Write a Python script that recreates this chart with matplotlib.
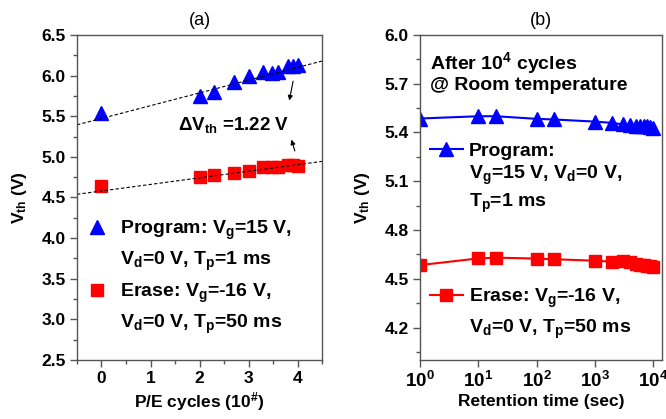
import numpy as np
import matplotlib
matplotlib.use("Agg")
import matplotlib.pyplot as plt
from matplotlib.lines import Line2D
from matplotlib.ticker import MultipleLocator, FixedLocator, FuncFormatter

plt.rcParams["font.family"] = ["Liberation Sans", "DejaVu Sans"]
plt.rcParams["font.weight"] = "bold"
plt.rcParams["axes.labelweight"] = "bold"
plt.rcParams["mathtext.fontset"] = "custom"
plt.rcParams["mathtext.rm"] = "Liberation Sans:bold"
plt.rcParams["mathtext.bf"] = "Liberation Sans:bold"
plt.rcParams["mathtext.it"] = "Liberation Sans:bold"
plt.rcParams["mathtext.default"] = "bf"

# (a) endurance, x = log10(P/E cycles)
pe_cycles = [0, 2, 2.3, 2.7, 3.0, 3.3, 3.48, 3.6, 3.8, 3.9, 4.0]
vth_prog_pe = [5.54, 5.75, 5.80, 5.92, 5.99, 6.04, 6.03, 6.04, 6.12, 6.12, 6.13]
vth_erase_pe = [4.64, 4.75, 4.78, 4.80, 4.83, 4.87, 4.87, 4.88, 4.90, 4.90, 4.89]
# linear fits (slope, intercept) drawn as dashed lines
fit_prog = (0.157, 5.473)
fit_erase = (0.081, 4.58)

# (b) retention after 1e4 cycles
ret_time = [1, 10, 20, 100, 200, 1000, 2000, 3000, 4000, 5000, 6000, 7000, 8000, 9000, 10000]
vth_prog_ret = [5.486, 5.50, 5.50, 5.484, 5.48, 5.467, 5.459, 5.45, 5.447, 5.44, 5.44,
                5.44, 5.437, 5.435, 5.43]
vth_erase_ret = [4.584, 4.625, 4.63, 4.624, 4.62, 4.611, 4.605, 4.61, 4.60, 4.592, 4.585,
                 4.582, 4.58, 4.578, 4.575]

blue = "#0000ff"
red = "#ff0000"
spine_col = "#555555"

fig = plt.figure(figsize=(6.66, 4.19), dpi=100)
ax1 = fig.add_axes([0.1156, 0.1408, 0.368, 0.7757])
ax2 = fig.add_axes([0.6306, 0.1408, 0.3634, 0.7757])

for ax in (ax1, ax2):
    for s in ax.spines.values():
        s.set_color(spine_col)
        s.set_linewidth(1.0)
    ax.tick_params(which="both", direction="out", color=spine_col, labelsize=12.5,
                   top=False, right=False)
    ax.tick_params(which="major", length=5, width=1, pad=3)
    ax.tick_params(which="minor", length=3, width=1)

# ---- panel (a) ----
ax1.plot(pe_cycles, vth_prog_pe, linestyle="none", marker="^", ms=10, color=blue, mec=blue)
ax1.plot(pe_cycles, vth_erase_pe, linestyle="none", marker="s", ms=8.5, color=red, mec=red)
xf = np.array([-0.5, 4.5])
ax1.plot(xf, fit_prog[0] * xf + fit_prog[1], "k--", lw=0.8, dashes=(3, 2))
ax1.plot(xf, fit_erase[0] * xf + fit_erase[1], "k--", lw=0.8, dashes=(3, 2))

ax1.set_xlim(-0.5, 4.5)
ax1.set_ylim(2.5, 6.5)
ax1.xaxis.set_major_locator(MultipleLocator(1))
ax1.xaxis.set_minor_locator(MultipleLocator(0.5))
ax1.yaxis.set_major_locator(MultipleLocator(0.5))
ax1.yaxis.set_minor_locator(MultipleLocator(0.25))
ax1.yaxis.set_major_formatter(FuncFormatter(lambda v, p: f"{v:.1f}"))

ax1.annotate("", xy=(3.82, 5.66), xytext=(3.92, 5.965),
             arrowprops=dict(arrowstyle="-|>", color="k", lw=0.8, mutation_scale=7))
ax1.annotate("", xy=(3.86, 5.245), xytext=(3.96, 5.04),
             arrowprops=dict(arrowstyle="-|>", color="k", lw=0.8, mutation_scale=7))
ax1.text(2.69, 5.39, "ΔV$_{th}$ =1.22 V", fontsize=13.5, ha="center", va="center")

h_tri = Line2D([], [], linestyle="none", marker="^", ms=10, color=blue)
h_sq = Line2D([], [], linestyle="none", marker="s", ms=8.5, color=red)
h_none = Line2D([], [], linestyle="none")
ax1.legend([h_tri, h_none, h_sq, h_none],
           ["Program: V$_g$=15 V,", "V$_d$=0 V, T$_p$=1 ms",
            "Erase: V$_g$=-16 V,", "V$_d$=0 V, T$_p$=50 ms"],
           loc="upper left", bbox_to_anchor=(0.0, 0.465), frameon=False,
           fontsize=14, handlelength=1.1, handletextpad=0.6, labelspacing=0.42,
           borderpad=0.2, borderaxespad=0.3)

ax1.set_xlabel("P/E cycles (10$^{\\#}$)", fontsize=12.5, labelpad=3)
ax1.set_ylabel("V$_{th}$ (V)", fontsize=12.5, labelpad=9)
ax1.set_title("(a)", fontsize=13, fontweight="normal", pad=7)

# ---- panel (b) ----
ax2.plot(ret_time, vth_prog_ret, "-", marker="^", ms=10, color=blue, lw=1.5)
ax2.plot(ret_time, vth_erase_ret, "-", marker="s", ms=8.5, color=red, lw=1.5)
ax2.set_xscale("log")
ax2.set_xlim(1, 14250)
ax2.set_ylim(4.0, 6.0)
ax2.xaxis.set_major_locator(FixedLocator([1, 10, 100, 1000, 10000]))
ax2.xaxis.set_minor_locator(FixedLocator([]))
ax2.xaxis.set_major_formatter(FuncFormatter(lambda v, p: f"$10^{{{int(round(np.log10(v)))}}}$"))
ax2.yaxis.set_major_locator(FixedLocator(np.arange(4.2, 6.01, 0.3)))
ax2.yaxis.set_minor_locator(FixedLocator(np.arange(4.05, 6.0, 0.3)))
ax2.yaxis.set_major_formatter(FuncFormatter(lambda v, p: f"{v:.1f}"))
ax2.tick_params(axis="x", labelsize=13.5)

ax2.text(0.04, 0.955, "After 10$^4$ cycles\n@ Room temperature", transform=ax2.transAxes,
         fontsize=14, ha="left", va="top", linespacing=1.1)

h_ptri = Line2D([], [], linestyle="-", marker="^", ms=10, color=blue, lw=1.5)
h_esq = Line2D([], [], linestyle="-", marker="s", ms=8.5, color=red, lw=1.5)
leg1 = ax2.legend([h_ptri, h_none, h_none],
                  ["Program:", "V$_g$=15 V, V$_d$=0 V,", "T$_p$=1 ms"],
                  loc="upper left", bbox_to_anchor=(0.0, 0.70), frameon=False,
                  fontsize=14, handlelength=1.7, handletextpad=0.3, labelspacing=0.22,
                  borderpad=0.2, borderaxespad=0.3)
ax2.add_artist(leg1)
ax2.legend([h_esq, h_none],
           ["Erase: V$_g$=-16 V,", "V$_d$=0 V, T$_p$=50 ms"],
           loc="upper left", bbox_to_anchor=(0.0, 0.255), frameon=False,
           fontsize=14, handlelength=1.7, handletextpad=0.3, labelspacing=0.42,
           borderpad=0.2, borderaxespad=0.3)

ax2.set_xlabel("Retention time (sec)", fontsize=12.5, labelpad=2)
ax2.set_ylabel("V$_{th}$ (V)", fontsize=12.5, labelpad=9)
ax2.set_title("(b)", fontsize=13, fontweight="normal", pad=7)

fig.savefig("out.png", dpi=100)
